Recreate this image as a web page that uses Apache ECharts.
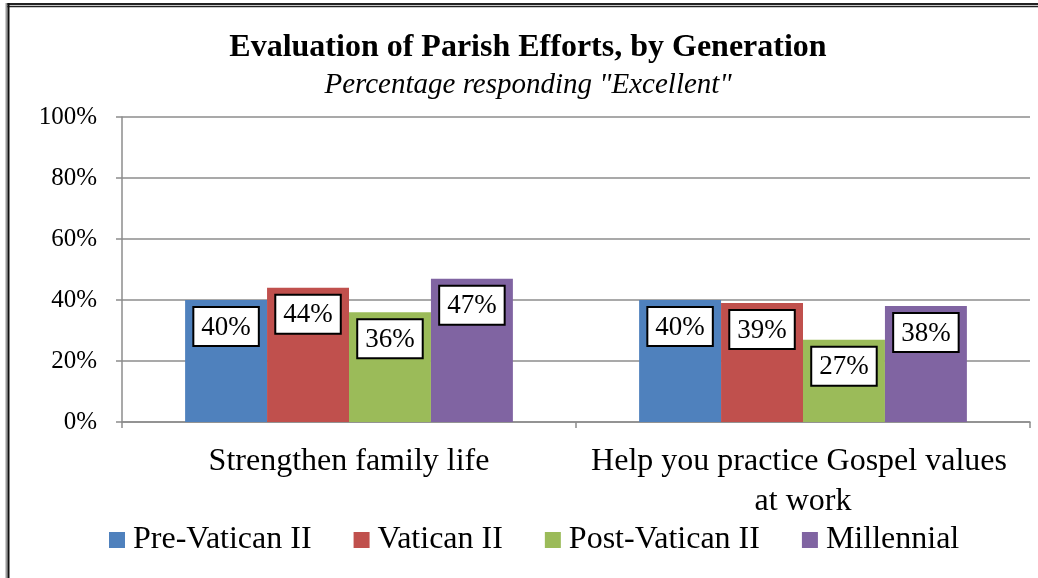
<!DOCTYPE html>
<html>
  <head>
    <meta charset="utf-8">
    <script src="https://cdn.jsdelivr.net/npm/echarts@6/dist/echarts.min.js"></script>
    <style>
      html, body { margin: 0; padding: 0; background: #fff; }
      #chart { width: 1038px; height: 578px; }
    </style>
  </head>
  <body>
    <div id="chart"></div>
    <script>
      // data
      const categories = ['Strengthen family life', 'Help you practice Gospel values at work'];
      const generations = ['Pre-Vatican II', 'Vatican II', 'Post-Vatican II', 'Millennial'];
      const preVatican = [40, 40];
      const vatican = [44, 39];
      const postVatican = [36, 27];
      const millennial = [47, 38];
      const yTicks = [0, 20, 40, 60, 80, 100];

      const colors = ['#4F81BD', '#C0504D', '#9BBB59', '#8064A2'];
      const serif = "'Liberation Serif', 'Times New Roman', serif";
      const gray = '#8c8c8c';

      const chart = echarts.init(document.getElementById('chart'), null, { renderer: 'canvas' });

      const values = [preVatican, vatican, postVatican, millennial];
      const series = generations.map(function (name, i) {
        return {
          name: name,
          type: 'bar',
          data: values[i],
          barGap: 0,
          barCategoryGap: '27.8%',
          itemStyle: { color: colors[i] },
          label: {
            show: true,
            position: 'insideTop',
            distance: 8,
            formatter: '{c}%',
            fontFamily: serif,
            fontSize: 27,
            color: '#000',
            backgroundColor: '#fff',
            borderColor: '#000',
            borderWidth: 2,
            padding: [6, 7, 4, 7]
          }
        };
      });

      chart.setOption({
        animation: false,
        color: colors,
        title: {
          text: 'Evaluation of Parish Efforts, by Generation',
          subtext: 'Percentage responding "Excellent"',
          left: 523,
          textAlign: 'center',
          top: 27,
          itemGap: 7,
          textStyle: { fontFamily: serif, fontWeight: 'bold', fontSize: 32, color: '#000' },
          subtextStyle: { fontFamily: serif, fontStyle: 'italic', fontSize: 29, color: '#000' }
        },
        legend: {
          data: generations,
          bottom: 17,
          left: 104,
          icon: 'rect',
          itemWidth: 16,
          itemHeight: 16,
          itemGap: 42,
          textStyle: { fontFamily: serif, fontSize: 32, color: '#000', padding: [0, 0, 0, 3] }
        },
        grid: { left: 122, right: 8, top: 117, bottom: 156 },
        xAxis: {
          type: 'category',
          data: categories,
          axisLine: { lineStyle: { color: gray, width: 1.5 } },
          axisTick: { show: true, length: 6, lineStyle: { color: gray, width: 1.5 } },
          axisLabel: {
            fontFamily: serif,
            fontSize: 32,
            color: '#000',
            margin: 20,
            lineHeight: 40,
            width: 430,
            overflow: 'break',
            interval: 0
          }
        },
        yAxis: {
          type: 'value',
          min: yTicks[0],
          max: yTicks[yTicks.length - 1],
          interval: 20,
          axisLine: { show: true, lineStyle: { color: gray, width: 1.5 } },
          axisTick: { show: true, length: 6, lineStyle: { color: gray, width: 1.5 } },
          splitLine: { lineStyle: { color: gray, width: 1.5 } },
          axisLabel: {
            formatter: '{value}%',
            fontFamily: serif,
            fontSize: 25,
            color: '#000',
            margin: 25
          }
        },
        graphic: [
          { type: 'line', shape: { x1: 6, y1: 4, x2: 1038, y2: 4 }, style: { stroke: '#222', lineWidth: 2 } },
          { type: 'line', shape: { x1: 6, y1: 6.5, x2: 1038, y2: 6.5 }, style: { stroke: '#222', lineWidth: 1.5 } },
          { type: 'line', shape: { x1: 6.5, y1: 3, x2: 6.5, y2: 578 }, style: { stroke: '#999', lineWidth: 2 } },
          { type: 'line', shape: { x1: 8.5, y1: 3, x2: 8.5, y2: 578 }, style: { stroke: '#111', lineWidth: 2 } }
        ],
        series: series
      });
    </script>
  </body>
</html>
